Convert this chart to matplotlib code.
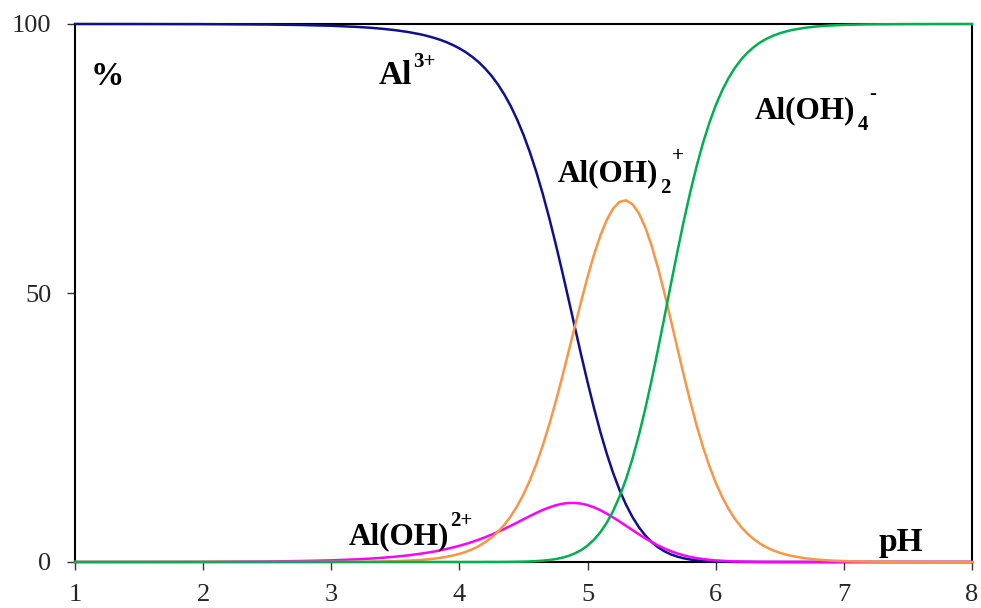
#!/usr/bin/env python3
"""
Aluminium hydrolysis species distribution vs pH
"""
import matplotlib
matplotlib.use('Agg')
import matplotlib.pyplot as plt

# values (% of total Al)
ph = [1.0, 1.5, 2.0, 2.5, 2.75, 3.0, 3.2, 3.3, 3.4, 3.5,
      3.6, 3.7, 3.75, 3.8, 3.85, 3.9, 3.95, 4.0,
      4.05, 4.1, 4.15, 4.2, 4.25, 4.3, 4.35, 4.4, 4.45, 4.5,
      4.55, 4.6, 4.65, 4.7, 4.75, 4.8, 4.85, 4.9, 4.95, 5.0,
      5.05, 5.1, 5.15, 5.2, 5.25, 5.3, 5.35, 5.4, 5.45, 5.5,
      5.55, 5.6, 5.65, 5.7, 5.75, 5.8, 5.85, 5.9, 5.95, 6.0,
      6.05, 6.1, 6.15, 6.2, 6.25, 6.3, 6.35, 6.4, 6.45, 6.5,
      6.55, 6.6, 6.7, 6.8, 6.9, 7.0, 7.1, 7.2, 7.5, 8.0]

al3 = [100.0, 99.99, 99.97, 99.90, 99.82, 99.67, 99.46, 99.31, 99.11, 98.85,
       98.51, 98.06, 97.77, 97.44, 97.06, 96.61, 96.08, 95.47,
       94.75, 93.90, 92.91, 91.74, 90.38, 88.78, 86.92, 84.76, 82.26, 79.40,
       76.15, 72.50, 68.44, 64.01, 59.24, 54.20, 48.99, 43.72, 38.49, 33.42,
       28.62, 24.16, 20.11, 16.51, 13.36, 10.65, 8.37, 6.48, 4.94, 3.71,
       2.74, 1.99, 1.42, 1.00, 0.69, 0.47, 0.32, 0.21, 0.14, 0.09,
       0.06, 0.04, 0.03, 0.02, 0.01, 0.01, 0.0, 0.0, 0.0, 0.0,
       0.0, 0.0, 0.0, 0.0, 0.0, 0.0, 0.0, 0.0, 0.0, 0.0]

aloh = [0.0, 0.01, 0.03, 0.10, 0.18, 0.31, 0.50, 0.63, 0.79, 0.99,
        1.24, 1.55, 1.74, 1.94, 2.17, 2.43, 2.71, 3.02,
        3.36, 3.74, 4.15, 4.60, 5.08, 5.60, 6.15, 6.73, 7.33, 7.94,
        8.54, 9.13, 9.67, 10.14, 10.53, 10.81, 10.97, 10.98, 10.85, 10.57,
        10.15, 9.62, 8.98, 8.27, 7.51, 6.72, 5.93, 5.15, 4.40, 3.71,
        3.07, 2.50, 2.01, 1.59, 1.23, 0.95, 0.72, 0.54, 0.40, 0.29,
        0.22, 0.16, 0.11, 0.08, 0.06, 0.04, 0.03, 0.02, 0.02, 0.01,
        0.01, 0.01, 0.0, 0.0, 0.0, 0.0, 0.0, 0.0, 0.0, 0.0]

aloh2 = [0.0, 0.0, 0.0, 0.0, 0.01, 0.02, 0.04, 0.06, 0.10, 0.16,
         0.25, 0.39, 0.49, 0.61, 0.77, 0.97, 1.21, 1.51,
         1.89, 2.36, 2.94, 3.65, 4.53, 5.60, 6.90, 8.48, 10.36, 12.58,
         15.19, 18.21, 21.64, 25.48, 29.69, 34.20, 38.92, 43.72, 48.45, 52.97,
         57.10, 60.69, 63.60, 65.72, 66.95, 67.22, 66.51, 64.83, 62.21, 58.77,
         54.62, 49.95, 44.96, 39.83, 34.78, 29.95, 25.48, 21.43, 17.85, 14.75,
         12.10, 9.86, 8.00, 6.46, 5.21, 4.18, 3.35, 2.68, 2.14, 1.71,
         1.36, 1.08, 0.69, 0.43, 0.27, 0.17, 0.11, 0.07, 0.02, 0.0]

aloh4 = [0.0, 0.0, 0.0, 0.0, 0.0, 0.0, 0.0, 0.0, 0.0, 0.0,
         0.0, 0.0, 0.0, 0.0, 0.0, 0.0, 0.0, 0.0,
         0.0, 0.0, 0.0, 0.01, 0.01, 0.01, 0.02, 0.03, 0.05, 0.07,
         0.11, 0.17, 0.25, 0.37, 0.54, 0.78, 1.12, 1.59, 2.21, 3.05,
         4.14, 5.53, 7.30, 9.50, 12.18, 15.40, 19.18, 23.54, 28.44, 33.82,
         39.57, 45.56, 51.62, 57.58, 63.29, 68.62, 73.48, 77.82, 81.61, 84.87,
         87.63, 89.94, 91.86, 93.44, 94.73, 95.77, 96.62, 97.30, 97.84, 98.28,
         98.63, 98.91, 99.31, 99.57, 99.73, 99.83, 99.89, 99.93, 99.98, 100.0]

x_ticks = [1, 2, 3, 4, 5, 6, 7, 8]
y_ticks = [0, 50, 100]

plt.rcParams['font.family'] = ['Liberation Serif', 'DejaVu Serif']

fig = plt.figure(figsize=(9.81, 6.08), dpi=100)
ax = fig.add_axes([75 / 981, 1 - 562 / 608, 897 / 981, 538 / 608])

lw = 1.8
ax.plot(ph, al3, color='#10108a', lw=lw, clip_on=False, zorder=3)
ax.plot(ph, aloh, color='#ff00ff', lw=lw, clip_on=False, zorder=4)
ax.plot(ph, aloh2, color='#f79646', lw=lw, clip_on=False, zorder=5)
ax.plot(ph, aloh4, color='#00b050', lw=lw, clip_on=False, zorder=6)

ax.set_xlim(1, 8)
ax.set_ylim(0, 100)
ax.set_xticks(x_ticks)
ax.set_yticks(y_ticks)
ax.tick_params(axis='both', direction='out', length=6, width=1,
               color='#333333', labelsize=19, labelcolor='#262626')
ax.tick_params(axis='x', pad=10)
ax.tick_params(axis='y', pad=11)
for s in ax.spines.values():
    s.set_linewidth(1.5)
    s.set_color('black')

MAIN = 24
SMALL = 15


def species(x, y, base, sub=None, sup=None, sup_dy=13.5, size=MAIN):
    """bold label with Excel-style subscript / superscript after it"""
    t = ax.text(x, y, base, fontsize=size, fontweight='bold',
                ha='left', va='baseline', zorder=7)
    last = t
    if sub:
        last = ax.annotate(sub, xy=(1, y), xycoords=(t, 'data'),
                           xytext=(1.5, -8.5), textcoords='offset points',
                           fontsize=SMALL, fontweight='bold',
                           ha='left', va='baseline', zorder=7)
    if sup:
        ax.annotate(sup, xy=(1, y), xycoords=(last, 'data'),
                    xytext=(1.0, sup_dy), textcoords='offset points',
                    fontsize=SMALL, fontweight='bold',
                    ha='left', va='baseline', zorder=7)


ax.text(1.122, 88.7, '%', fontsize=MAIN, fontweight='bold',
        ha='left', va='baseline', zorder=7)
species(3.368, 88.8, 'Al', sup='3+', sup_dy=12.5)
species(4.765, 70.8, 'Al(OH)', sub='2', sup='+', sup_dy=14.3, size=22.5)
species(6.308, 82.5, 'Al(OH)', sub='4', sup='-', sup_dy=13.7, size=22.5)
species(3.134, 3.3, 'Al(OH)', sup='2+', sup_dy=13.4, size=22.5)
ax.text(7.271, 2.1, 'pH', fontsize=MAIN, fontweight='bold',
        ha='left', va='baseline', zorder=7)

plt.savefig('out.png', dpi=100)
